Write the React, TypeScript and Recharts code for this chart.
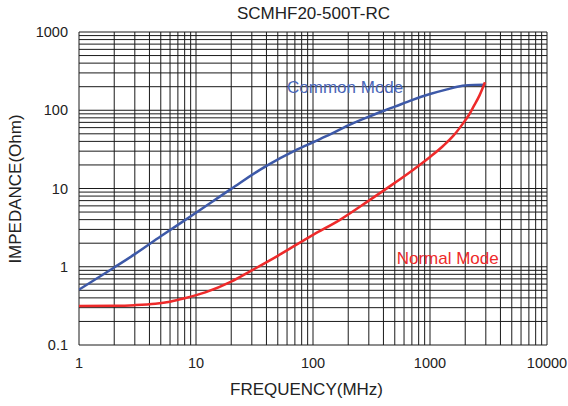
import { LineChart, Line, XAxis, YAxis, CartesianGrid, ReferenceDot } from 'recharts';

// Common mode impedance (MHz -> Ohm)
const commonFreq = [1, 2, 3, 5, 10, 20, 40, 70, 100, 140, 200, 300, 500, 700, 1000, 1400, 1900, 2400, 2900];
const commonZ = [0.51, 0.98, 1.45, 2.45, 4.9, 9.9, 19.5, 30.5, 39, 49, 64, 83, 111, 135, 161, 185, 205, 211, 212];

// Normal mode impedance
const normalFreq = [1, 2, 3, 4.5, 6, 8, 12, 20, 30, 50, 100, 170, 300, 500, 720, 1000, 1300, 1600, 1930, 2150, 2360, 2650, 2950];
const normalZ = [0.315, 0.317, 0.323, 0.337, 0.358, 0.395, 0.47, 0.645, 0.9, 1.38, 2.56, 3.98, 7.0, 11.8, 17.4, 25.3, 35.2, 48, 69, 87, 112, 155, 228];

const xDecades = [1, 10, 100, 1000, 10000];
const yDecades = [0.1, 1, 10, 100, 1000];
const minor = [1, 2, 3, 4, 5, 6, 7, 8, 9];

const gridTicks = (decades: number[]) => {
  const out: number[] = [];
  decades.slice(0, -1).forEach((d) => minor.forEach((m) => out.push(Number((d * m).toPrecision(3)))));
  out.push(decades[decades.length - 1]);
  return out;
};

const xTicks = gridTicks(xDecades);
const yTicks = gridTicks(yDecades);

const commonData = commonFreq.map((f, i) => ({ f, z: commonZ[i] }));
const normalData = normalFreq.map((f, i) => ({ f, z: normalZ[i] }));

const FONT = '"Liberation Sans", Arial, sans-serif';
const BLUE = '#3d59a8';
const RED = '#ee2a2a';

const fmt = (decades: number[]) => (v: number) =>
  decades.some((d) => Math.abs(d - v) < d * 1e-6) ? String(v) : '';

export default function App() {
  return (
    <div style={{ position: 'absolute', left: 0, top: 0, width: 568, height: 406, background: '#fff', fontFamily: FONT }}>
      <div style={{ position: 'absolute', left: 0, width: 627, top: 4, textAlign: 'center', fontSize: 17, color: '#222' }}>
        SCMHF20-500T-RC
      </div>
      <div style={{ position: 'absolute', left: 0, width: 613, top: 380, textAlign: 'center', fontSize: 17, color: '#222' }}>
        FREQUENCY(MHz)
      </div>
      <div
        style={{
          position: 'absolute',
          left: 16,
          top: 189,
          transform: 'translate(-50%, -50%) rotate(-90deg)',
          whiteSpace: 'nowrap',
          fontSize: 17,
          color: '#222',
        }}
      >
        IMPEDANCE(Ohm)
      </div>
      <LineChart width={568} height={406} margin={{ top: 32, right: 21, bottom: 31, left: 29 }}>
        <CartesianGrid stroke="#1a1a1a" strokeWidth={1} />
        <XAxis
          type="number"
          dataKey="f"
          scale="log"
          domain={[1, 10000]}
          ticks={xTicks}
          tickFormatter={fmt(xDecades)}
          allowDataOverflow
          axisLine={false}
          tickLine={false}
          tickMargin={7}
          height={30}
          interval={0}
          tick={{ fontSize: 14.5, fill: '#222', fontFamily: FONT }}
        />
        <YAxis
          type="number"
          dataKey="z"
          scale="log"
          domain={[0.1, 1000]}
          ticks={yTicks}
          tickFormatter={fmt(yDecades)}
          allowDataOverflow
          axisLine={false}
          tickLine={false}
          tickMargin={5}
          width={50}
          interval={0}
          tick={{ fontSize: 14.5, fill: '#222', fontFamily: FONT }}
        />
        <Line
          data={commonData}
          dataKey="z"
          type="monotone"
          stroke={BLUE}
          strokeWidth={2.5}
          dot={false}
          isAnimationActive={false}
        />
        <Line
          data={normalData}
          dataKey="z"
          type="monotone"
          stroke={RED}
          strokeWidth={2.5}
          dot={false}
          isAnimationActive={false}
        />
        <ReferenceDot
          x={60}
          y={196}
          r={0}
          fill="none"
          stroke="none"
          label={{ value: 'Common Mode', position: 'right', offset: 0, fill: '#4a66b8', fontSize: 17, fontFamily: FONT }}
        />
        <ReferenceDot
          x={519}
          y={1.29}
          r={0}
          fill="none"
          stroke="none"
          label={{ value: 'Normal Mode', position: 'right', offset: 0, fill: RED, fontSize: 17, fontFamily: FONT }}
        />
      </LineChart>
    </div>
  );
}
